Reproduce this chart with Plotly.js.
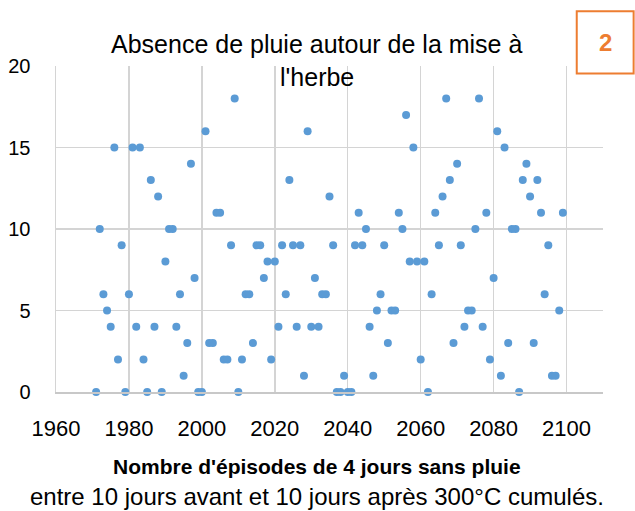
<!DOCTYPE html>
<html>
<head>
<meta charset="utf-8">
<script src="https://cdn.plot.ly/plotly-3.0.1.min.js"></script>
<style>
html,body{margin:0;padding:0;background:#fff;}
#chart{width:635px;height:511px;}
</style>
</head>
<body>
<div id="chart"></div>
<script>
var years = [
  1971,1972,1973,1974,1975,1976,1977,1978,1979,1980,
  1981,1982,1983,1984,1985,1986,1987,1988,1989,1990,
  1991,1992,1993,1994,1995,1996,1997,1998,1999,2000,
  2001,2002,2003,2004,2005,2006,2007,2008,2009,2010,
  2011,2012,2013,2014,2015,2016,2017,2018,2019,2020,
  2021,2022,2023,2024,2025,2026,2027,2028,2029,2030,
  2031,2032,2033,2034,2035,2036,2037,2038,2039,2040,
  2041,2042,2043,2044,2045,2046,2047,2048,2049,2050,
  2051,2052,2053,2054,2055,2056,2057,2058,2059,2060,
  2061,2062,2063,2064,2065,2066,2067,2068,2069,2070,
  2071,2072,2073,2074,2075,2076,2077,2078,2079,2080,
  2081,2082,2083,2084,2085,2086,2087,2088,2089,2090,
  2091,2092,2093,2094,2095,2096,2097,2098,2099
];
var episodes = [
  0,10,6,5,4,15,2,9,0,6,
  15,4,15,2,0,13,4,12,0,8,
  10,10,4,6,1,3,14,7,0,0,
  16,3,3,11,11,2,2,9,18,0,
  2,6,6,3,9,9,7,8,2,8,
  4,9,6,13,9,4,9,1,16,4,
  7,4,6,6,12,9,0,0,1,0,
  0,9,11,9,10,4,1,5,6,9,
  3,5,5,11,10,17,8,15,8,2,
  8,0,6,11,9,12,18,13,3,14,
  9,4,5,5,10,18,4,11,2,7,
  16,1,15,3,10,10,0,13,14,12,
  3,13,11,6,9,1,1,5,11
];
var xTicks = [1960,1980,2000,2020,2040,2060,2080,2100];
var yTicks = [0,5,10,15,20];
var titleLine1 = "Absence de pluie autour de la mise à";
var titleLine2 = "l'herbe";
var xTitleLine1 = "Nombre d'épisodes de 4 jours sans pluie";
var xTitleLine2 = "entre 10 jours avant et 10 jours après 300°C cumulés.";
var panelLabel = "2";

var FONT = "Liberation Sans, Arial, sans-serif";

var trace = {
  type: "scatter",
  mode: "markers",
  x: years,
  y: episodes,
  marker: {color: "#5B9BD5", size: 8},
  cliponaxis: false,
  hoverinfo: "x+y"
};

var layout = {
  width: 635,
  height: 511,
  margin: {l: 56, r: 32, t: 66, b: 119, pad: 0},
  paper_bgcolor: "#ffffff",
  plot_bgcolor: "#ffffff",
  showlegend: false,
  font: {family: FONT, color: "#000000", size: 20},
  xaxis: {
    range: [1960, 2110],
    tickmode: "array",
    tickvals: xTicks,
    ticktext: xTicks.map(String),
    showgrid: true,
    gridcolor: "#D4D4D4",
    gridwidth: 1.5,
    zeroline: false,
    showline: true,
    linecolor: "#C8C8C8",
    linewidth: 1.6,
    ticks: "outside",
    ticklen: 16,
    tickcolor: "rgba(0,0,0,0)",
    tickfont: {family: FONT, size: 22, color: "#000"},
    fixedrange: true
  },
  yaxis: {
    range: [0, 20],
    tickmode: "array",
    tickvals: yTicks,
    ticktext: yTicks.map(String),
    showgrid: true,
    gridcolor: "#D4D4D4",
    gridwidth: 1.5,
    zeroline: false,
    showline: true,
    linecolor: "#D4D4D4",
    linewidth: 1.5,
    ticks: "outside",
    ticklen: 20,
    tickcolor: "rgba(0,0,0,0)",
    tickfont: {family: FONT, size: 20, color: "#000"},
    fixedrange: true
  },
  shapes: [
    {type: "rect", xref: "paper", yref: "paper",
     x0: 0.952, x1: 1.056, y0: 0.977, y1: 1.168,
     line: {color: "#ED7D31", width: 2}, fillcolor: "#ffffff", layer: "above"}
  ],
  annotations: [
    {text: titleLine1, xref: "paper", yref: "paper", x: 0.476, y: 1.066,
     showarrow: false, xanchor: "center", yanchor: "middle",
     font: {family: FONT, size: 25, color: "#000"}},
    {text: titleLine2, xref: "paper", yref: "paper", x: 0.478, y: 0.966,
     showarrow: false, xanchor: "center", yanchor: "middle",
     font: {family: FONT, size: 25, color: "#000"}},
    {text: "<b>" + xTitleLine1 + "</b>", xref: "paper", yref: "paper", x: 0.477, y: -0.230,
     showarrow: false, xanchor: "center", yanchor: "middle",
     font: {family: FONT, size: 21, color: "#000"}},
    {text: xTitleLine2, xref: "paper", yref: "paper", x: 0.477, y: -0.322,
     showarrow: false, xanchor: "center", yanchor: "middle",
     font: {family: FONT, size: 24, color: "#000"}},
    {text: "<b>" + panelLabel + "</b>", xref: "paper", yref: "paper", x: 1.004, y: 1.071,
     showarrow: false, xanchor: "center", yanchor: "middle",
     font: {family: FONT, size: 24, color: "#ED7D31"}}
  ]
};

Plotly.newPlot("chart", [trace], layout, {displayModeBar: false, staticPlot: true});
</script>
</body>
</html>
